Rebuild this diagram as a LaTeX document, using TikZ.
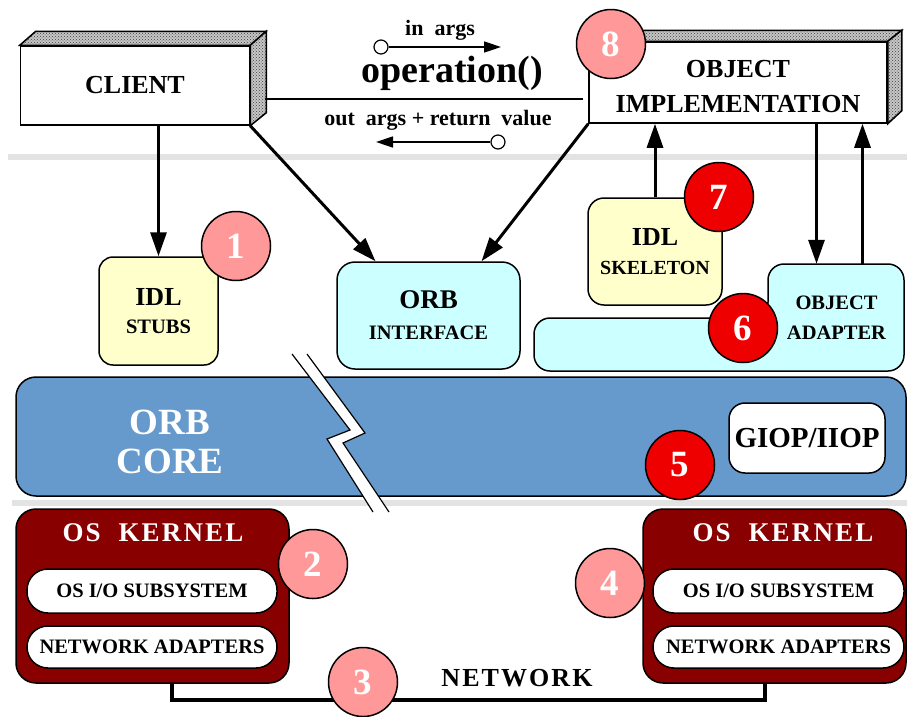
\documentclass[tikz,border=0pt]{standalone}
\usepackage{fontspec}
\setmainfont{Liberation Serif}
\newfontfamily\spacedfont[LetterSpace=8]{Liberation Serif}
\usepackage{xcolor}
\usepackage{tikz}
\usetikzlibrary{arrows.meta,patterns}

\definecolor{stubyellow}{HTML}{FFFFCC}
\definecolor{orbcyan}{HTML}{CCFFFF}
\definecolor{coreblue}{HTML}{6699CC}
\definecolor{numpink}{HTML}{FF9999}
\definecolor{numred}{HTML}{EE0000}
\definecolor{kernelred}{HTML}{880000}
\definecolor{bandgray}{HTML}{E3E3E3}

\newcommand{\fsz}[2]{\fontsize{#1}{#2}\selectfont}

\begin{document}
\begin{tikzpicture}[x=1pt,y=-1pt,
  >={Triangle[length=24pt,width=16pt]},
  box/.style={draw, line width=1.5pt, inner sep=0pt, align=center},
  face/.style={draw, line width=1.5pt, preaction={fill=gray!45}, pattern=crosshatch dots, pattern color=black!75},
  band/.style={line width=6pt, bandgray},
  link/.style={->, line width=3pt},
  thinarrow/.style={-{Triangle[length=17pt,width=11pt]}, line width=1.6pt},
  dot/.style={circle, draw, line width=1.2pt, fill=white, minimum size=14pt, inner sep=0pt},
  pill/.style={box, fill=white, rounded corners=21pt, font=\bfseries\fsz{20.5}{22}},
  numlite/.style={circle, draw, line width=1.5pt, fill=numpink, text=white, minimum size=69pt, inner sep=0pt, font=\bfseries\fsz{37}{37}},
  numdark/.style={numlite, fill=numred}]
\useasboundingbox (0,0) rectangle (907,716);

% grey separators
\draw[band] (8,157) -- (907,157);
\draw[band] (12,503) -- (907,503);

% client and object implementation
\node[box, fill=white, minimum width=229pt, minimum height=79pt, font=\bfseries\fsz{26}{30}] (client) at (135,85.5) {CLIENT};
\draw[face] (client.north west) -- ++(16,-14) -- ([shift={(16,-14)}]client.north east) -- (client.north east) -- cycle;
\draw[face] (client.north east) -- ([shift={(16,-14)}]client.north east) -- ([shift={(16,-13)}]client.south east) -- (client.south east) -- cycle;

\node[box, fill=white, minimum width=298pt, minimum height=81pt, font=\bfseries\fsz{26}{35}] (objimpl) at (738,82.5) {\rule{0pt}{26pt}OBJECT\\IMPLEMENTATION};
\draw[face] (objimpl.north west) -- ++(14,-11) -- ([shift={(14,-11)}]objimpl.north east) -- (objimpl.north east) -- cycle;
\draw[face] (objimpl.north east) -- ([shift={(14,-11)}]objimpl.north east) -- ([shift={(14,-13)}]objimpl.south east) -- (objimpl.south east) -- cycle;

% the request
\coordinate (opL) at (265,99);
\coordinate (opR) at (583,99);
\draw[line width=2pt] (opL) -- (opR);
\node[font=\bfseries\fsz{22}{24}, anchor=base] (inlbl) at (440,35) {in\ \ args};
\node[font=\bfseries\fsz{38}{40}, anchor=base] (oplbl) at (452,82) {operation()};
\node[font=\bfseries\fsz{22}{24}, anchor=base] (outlbl) at (438,125) {out\ \ args + return\ \ value};
\node[dot] (indot) at (381,47) {};
\coordinate (inend) at (501,47);
\draw[thinarrow] (indot) -- (inend);
\node[dot] (outdot) at (498,142) {};
\coordinate (outend) at (376,142);
\draw[thinarrow] (outdot) -- (outend);

% stubs, orb interface, skeleton, adapter
\node[box, rounded corners=14pt, fill=stubyellow, minimum width=119pt, minimum height=108pt, font=\bfseries\fsz{20.5}{28}] (stubs) at (158.5,311) {{\fsz{26}{28}IDL}\\STUBS};
\node[box, rounded corners=18pt, fill=orbcyan, minimum width=183pt, minimum height=107pt, font=\bfseries\fsz{20.5}{31}] (orbif) at (428.5,315.5) {{\fsz{27}{31}ORB}\\INTERFACE};
\node[box, rounded corners=16pt, fill=stubyellow, minimum width=134pt, minimum height=107pt, font=\bfseries\fsz{20}{29}] (skel) at (655,251.5) {{\fsz{26}{29}IDL}\\SKELETON};
\draw[line width=1.5pt, fill=orbcyan, rounded corners=16pt] (534,371) -- (534,318) -- (768,318) -- (768,264) -- (904,264) -- (904,371) -- cycle;
\node[inner sep=0pt, minimum width=137pt, minimum height=107pt, align=center, font=\bfseries\fsz{20.5}{30}] (adapter) at (836.5,317.5) {OBJECT\\ADAPTER};

\draw[link] (client.south -| stubs.north) -- (stubs.north);
\draw[link] (client.south east) -- ([xshift=-53pt]orbif.north);
\draw[link] (objimpl.south west) -- ([xshift=53pt]orbif.north);
\draw[link] (skel.north) -- (skel.north |- objimpl.south);
\draw[link] ([xshift=-20pt]adapter.north |- objimpl.south) -- ([xshift=-20pt]adapter.north);
\draw[link] ([xshift=26pt]adapter.north) -- ([xshift=26pt]adapter.north |- objimpl.south);

% orb core
\node[box, rounded corners=20pt, fill=coreblue, minimum width=890pt, minimum height=119pt] (core) at (461,436.5) {};
\node[font=\bfseries\fsz{37}{39}, text=white, align=center] (coretxt) at (170,442) {ORB\\CORE};
\node[box, rounded corners=16pt, fill=white, minimum width=156pt, minimum height=70pt, font=\bfseries\fsz{29}{30}] (giop) at (807,438) {GIOP/IIOP};

% break
\fill[white] (292,354) -- (350,430) -- (327,439) -- (373,512) -- (389,512) -- (343,443) -- (365,433) -- (307,354) -- cycle;
\draw[line width=1.2pt] (292,354) -- (350,430) -- (327,439) -- (373,512);
\draw[line width=1.2pt] (307,354) -- (365,433) -- (343,443) -- (389,512);

% os kernels
\node[box, rounded corners=20pt, fill=kernelred, minimum width=273pt, minimum height=174pt] (kernelL) at (152.5,596) {};
\node[font=\spacedfont\bfseries\fsz{27}{30}, text=white] (titleL) at (153,533) {OS\ \ KERNEL};
\node[pill, minimum width=250pt, minimum height=44pt] (ioL) at (152,591) {OS I/O SUBSYSTEM};
\node[pill, minimum width=250pt, minimum height=42pt] (netL) at (152,647) {NETWORK ADAPTERS};

\node[box, rounded corners=20pt, fill=kernelred, minimum width=263pt, minimum height=174pt] (kernelR) at (774.5,596) {};
\node[font=\spacedfont\bfseries\fsz{27}{30}, text=white] (titleR) at (783,533) {OS\ \ KERNEL};
\node[pill, minimum width=251pt, minimum height=44pt] (ioR) at (778.5,591) {OS I/O SUBSYSTEM};
\node[pill, minimum width=251pt, minimum height=42pt] (netR) at (778.5,647) {NETWORK ADAPTERS};

% network
\draw[line width=4pt] ([xshift=19.5pt]kernelL.south) -- ++(0,16) -| ([xshift=-9.5pt]kernelR.south);
\node[font=\spacedfont\bfseries\fsz{26}{28}] (netlbl) at (517,678) {NETWORK};

% numbered steps
\node[numlite] (n1) at (236,246) {1};
\node[numlite] (n2) at (313,564) {2};
\node[numlite] (n3) at (363,682) {3};
\node[numlite] (n4) at (610,583) {4};
\node[numdark] (n5) at (680,465) {5};
\node[numdark] (n6) at (743,328) {6};
\node[numdark] (n7) at (719,197) {7};
\node[numlite] (n8) at (611,44) {8};
\end{tikzpicture}
\end{document}
